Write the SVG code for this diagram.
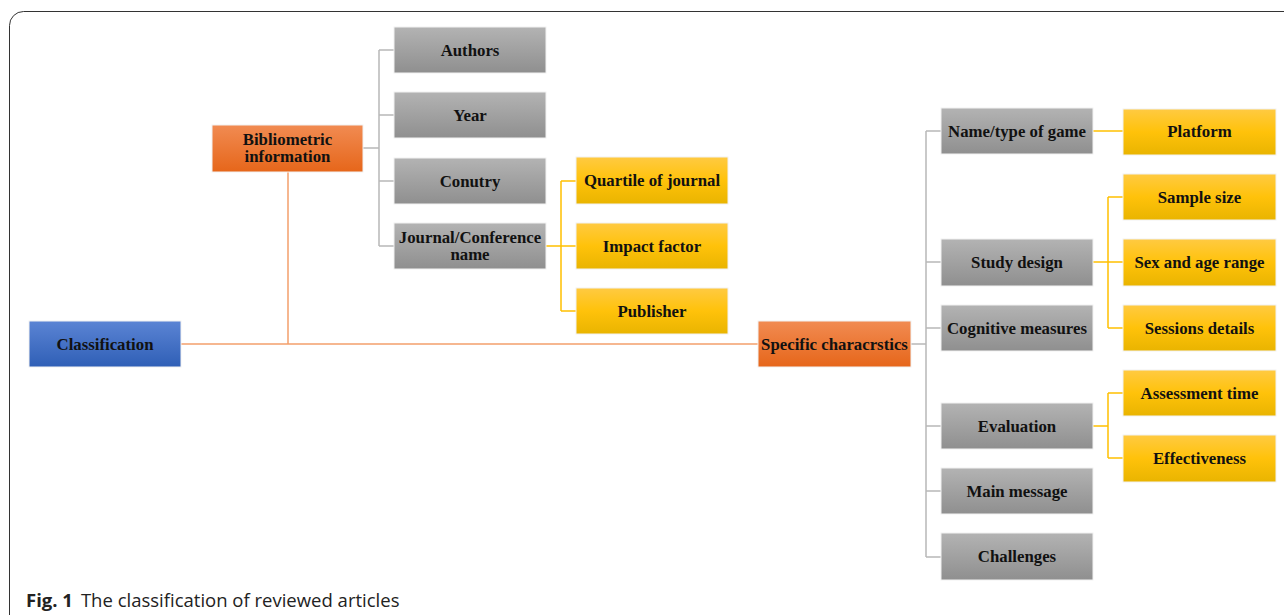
<svg xmlns="http://www.w3.org/2000/svg" width="1284" height="615" viewBox="0 0 1284 615">
<defs>
<linearGradient id="gGrey" x1="0" y1="0" x2="0" y2="1"><stop offset="0" stop-color="#b3b3b3"/><stop offset="1" stop-color="#8f8f8f"/></linearGradient>
<linearGradient id="gOrange" x1="0" y1="0" x2="0" y2="1"><stop offset="0" stop-color="#f18b52"/><stop offset="1" stop-color="#e6661a"/></linearGradient>
<linearGradient id="gYellow" x1="0" y1="0" x2="0" y2="1"><stop offset="0" stop-color="#ffca42"/><stop offset="0.5" stop-color="#ffc20a"/><stop offset="1" stop-color="#e9b400"/></linearGradient>
<linearGradient id="gBlue" x1="0" y1="0" x2="0" y2="1"><stop offset="0" stop-color="#5b84d4"/><stop offset="1" stop-color="#2f5fb6"/></linearGradient>
</defs>
<style>
.box{stroke:#f2f2f2;stroke-width:1}
.grey{fill:url(#gGrey)}
.orange{fill:url(#gOrange)}
.yellow{fill:url(#gYellow)}
.blue{fill:url(#gBlue)}
.t{font-family:"Liberation Serif","Times New Roman",serif;font-weight:bold;font-size:16.8px;fill:#111;text-anchor:middle}
.cg{stroke:#b8b8b8;stroke-width:1.5;fill:none}
.co{stroke:#f4a06c;stroke-width:1.5;fill:none}
.cy{stroke:#ffc000;stroke-width:1.5;fill:none}
.cap{font-family:"Open Sans","Noto Sans",sans-serif;font-size:18.5px;fill:#222}
</style>
<rect x="9.5" y="11.5" width="1300" height="640" rx="14" fill="#fff" stroke="#333" stroke-width="1"/>
<g id="connectors">
<path class="co" d="M181 344H758M288 172V344"/>
<path class="cg" d="M363 148H379M379 50V246M379 50H394M379 115H394M379 181H394M379 246H394"/>
<path class="cy" d="M546 246H561M561 181V311M561 181H576M561 246H576M561 311H576"/>
<path class="cg" d="M911 344H926M926 131V557M926 131H941M926 262H941M926 328H941M926 426H941M926 491H941M926 557H941"/>
<path class="cy" d="M1093 131H1123"/>
<path class="cy" d="M1093 262H1108M1108 197V328M1108 197H1123M1108 262H1123M1108 328H1123"/>
<path class="cy" d="M1093 426H1108M1108 393V458M1108 393H1123M1108 458H1123"/>
</g>
<g id="classification"><rect class="box blue" x="29" y="321" width="152" height="46"/><text class="t" x="105" y="349.5">Classification</text></g>
<g id="bibliometric"><rect class="box orange" x="212" y="125" width="151" height="47"/><text class="t" x="287.5" y="145">Bibliometric</text><text class="t" x="287.5" y="162">information</text></g>
<g id="authors"><rect class="box grey" x="394" y="27" width="152" height="46"/><text class="t" x="470" y="55.5">Authors</text></g>
<g id="year"><rect class="box grey" x="394" y="92" width="152" height="46"/><text class="t" x="470" y="120.5">Year</text></g>
<g id="conutry"><rect class="box grey" x="394" y="158" width="152" height="46"/><text class="t" x="470" y="186.5">Conutry</text></g>
<g id="journal"><rect class="box grey" x="394" y="223" width="152" height="46"/><text class="t" x="470" y="243">Journal/Conference</text><text class="t" x="470" y="260">name</text></g>
<g id="quartile"><rect class="box yellow" x="576" y="157" width="152" height="47"/><text class="t" x="652" y="186">Quartile of journal</text></g>
<g id="impact"><rect class="box yellow" x="576" y="223" width="152" height="46"/><text class="t" x="652" y="251.5">Impact factor</text></g>
<g id="publisher"><rect class="box yellow" x="576" y="288" width="152" height="46"/><text class="t" x="652" y="316.5">Publisher</text></g>
<g id="specific"><rect class="box orange" x="758" y="321" width="153" height="46"/><text class="t" x="834.5" y="349.5">Specific characrstics</text></g>
<g id="name"><rect class="box grey" x="941" y="108" width="152" height="46"/><text class="t" x="1017" y="136.5">Name/type of game</text></g>
<g id="study"><rect class="box grey" x="941" y="239" width="152" height="47"/><text class="t" x="1017" y="268">Study design</text></g>
<g id="cognitive"><rect class="box grey" x="941" y="305" width="152" height="46"/><text class="t" x="1017" y="333.5">Cognitive measures</text></g>
<g id="evaluation"><rect class="box grey" x="941" y="403" width="152" height="46"/><text class="t" x="1017" y="431.5">Evaluation</text></g>
<g id="mainmessage"><rect class="box grey" x="941" y="468" width="152" height="46"/><text class="t" x="1017" y="496.5">Main message</text></g>
<g id="challenges"><rect class="box grey" x="941" y="533" width="152" height="47"/><text class="t" x="1017" y="562">Challenges</text></g>
<g id="platform"><rect class="box yellow" x="1123" y="109" width="153" height="46"/><text class="t" x="1199.5" y="137">Platform</text></g>
<g id="sample"><rect class="box yellow" x="1123" y="174" width="153" height="46"/><text class="t" x="1199.5" y="202.5">Sample size</text></g>
<g id="sex"><rect class="box yellow" x="1123" y="239" width="153" height="47"/><text class="t" x="1199.5" y="268">Sex and age range</text></g>
<g id="sessions"><rect class="box yellow" x="1123" y="305" width="153" height="46"/><text class="t" x="1199.5" y="333.5">Sessions details</text></g>
<g id="assessment"><rect class="box yellow" x="1123" y="370" width="153" height="46"/><text class="t" x="1199.5" y="398.5">Assessment time</text></g>
<g id="effectiveness"><rect class="box yellow" x="1123" y="435" width="153" height="47"/><text class="t" x="1199.5" y="464">Effectiveness</text></g>
<text class="cap" x="26" y="607"><tspan font-weight="bold">Fig. 1</tspan><tspan dx="8">The classification of reviewed articles</tspan></text>
</svg>
